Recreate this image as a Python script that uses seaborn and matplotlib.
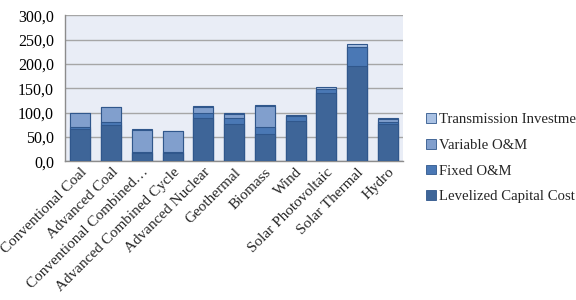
import matplotlib
matplotlib.use("Agg")
import matplotlib.pyplot as plt
import seaborn as sns
import pandas as pd
import numpy as np
from matplotlib.patches import Patch
from matplotlib.ticker import FuncFormatter

categories = ["Conventional Coal", "Advanced Coal", "Conventional Combined…",
              "Advanced Combined Cycle", "Advanced Nuclear", "Geothermal",
              "Biomass", "Wind", "Solar Photovoltaic", "Solar Thermal", "Hydro"]
levelized_capital = [65.8, 75.2, 17.2, 17.5, 88.8, 76.6, 56.0, 82.5, 140.7, 195.0, 76.9]
fixed_om = [4.0, 6.6, 1.9, 1.9, 11.3, 11.9, 13.8, 9.8, 7.7, 40.1, 4.0]
variable_om = [28.6, 29.2, 45.8, 42.4, 11.6, 9.5, 44.3, 0.0, 0.0, 0.0, 6.0]
transmission = [1.2, 1.2, 1.2, 1.2, 1.1, 1.5, 1.3, 3.8, 4.3, 6.3, 2.1]

series_names = ["Levelized Capital Cost", "Fixed O&M", "Variable O&M", "Transmission Investme"]
series_vals = [levelized_capital, fixed_om, variable_om, transmission]
colors = ["#3E6598", "#4A78B5", "#819FCD", "#A9C1E3"]
edge = "#30578C"

sns.set_style("white")
plt.rcParams['font.family'] = ['Liberation Serif', 'DejaVu Serif']

fig = plt.figure(figsize=(5.76, 3.0), dpi=100)
ax = fig.add_axes([0.113, 0.462, 0.587, 0.487])
ax.set_facecolor("#E9EDF6")

cum = np.cumsum(np.array(series_vals), axis=0)
for i in range(len(series_names) - 1, -1, -1):
    df = pd.DataFrame({"cat": categories, "val": cum[i]})
    sns.barplot(data=df, x="cat", y="val", color=colors[i], width=0.65,
                edgecolor=edge, linewidth=0.8, saturation=1, ax=ax, zorder=3)

ax.set_ylim(0, 300)
ax.set_yticks(np.arange(0, 301, 50))
ax.yaxis.set_major_formatter(FuncFormatter(lambda v, p: f"{v:.1f}".replace(".", ",")))
ax.grid(axis="y", color="#A6A6A6", linewidth=1.0, zorder=0)
ax.set_axisbelow(True)
ax.set_xlabel("")
ax.set_ylabel("")
ax.set_xlim(-0.5, len(categories) - 0.5)
for s in ["top", "right"]:
    ax.spines[s].set_visible(False)
for s in ["left", "bottom"]:
    ax.spines[s].set_color("#8C8C8C")
    ax.spines[s].set_linewidth(1.0)
ax.tick_params(axis="y", labelsize=11.5, length=0, pad=8, colors="black")
ax.tick_params(axis="x", labelsize=11, length=0, pad=3)
plt.setp(ax.get_xticklabels(), rotation=45, ha="right", rotation_mode="anchor")

handles = [Patch(facecolor=colors[i], edgecolor=edge, linewidth=0.6, label=series_names[i])
           for i in range(len(series_names) - 1, -1, -1)]
leg = fig.legend(handles=handles, loc="upper left", bbox_to_anchor=(0.74, 0.622),
                 frameon=False, fontsize=10.6, handlelength=0.65, handleheight=0.65,
                 handletextpad=0.25, labelspacing=0.85, borderaxespad=0, borderpad=0)

fig.savefig("out.png", dpi=100)
